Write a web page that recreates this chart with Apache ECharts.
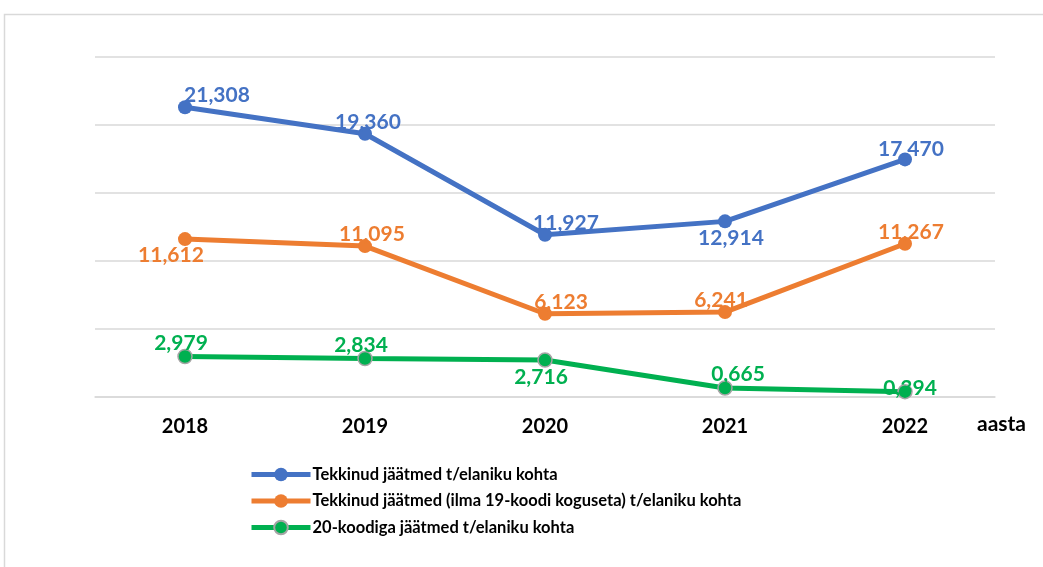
<!DOCTYPE html>
<html>
<head>
<meta charset="UTF-8">
<title>Jäätmed</title>
<script src="https://cdn.jsdelivr.net/npm/echarts@6/dist/echarts.min.js"></script>
<style>
  html, body { margin: 0; padding: 0; background: #fff; }
  #main { width: 1043px; height: 567px; }
</style>
</head>
<body>
<div id="main"></div>
<script type="text/javascript">
  // andmed
  var years = ['2018', '2019', '2020', '2021', '2022'];
  var seriesNames = [
    'Tekkinud jäätmed t/elaniku kohta',
    'Tekkinud jäätmed (ilma 19-koodi koguseta) t/elaniku kohta',
    '20-koodiga jäätmed t/elaniku kohta'
  ];
  var tekkinud = [21.308, 19.360, 11.927, 12.914, 17.470];
  var ilma19 = [11.612, 11.095, 6.123, 6.241, 11.267];
  var kood20 = [2.979, 2.834, 2.716, 0.665, 0.394];

  // sildi asukohad (positsioon + nihe)
  var labelPos = [
    [['top', [32, 6]], ['top', [3, 6]], ['top', [21, 6]], ['bottom', [6, -1]], ['top', [6, 7]]],
    [['bottom', [-14, -1]], ['top', [7, 6]], ['top', [16, 6]], ['top', [-4, 6]], ['top', [6, 6]]],
    [['top', [-4, 5]], ['top', [-4, 5]], ['bottom', [-4, -1]], ['top', [13, 5]], ['top', [5, 15]]]
  ];
  var colors = ['#4472C4', '#ED7D31', '#00B050'];
  var font = 'Lato';

  function fmt(v) { return v.toFixed(3).replace('.', ','); }

  function buildData(values, pos) {
    return values.map(function (v, i) {
      return {
        value: v,
        label: { position: pos[i][0], offset: pos[i][1] }
      };
    });
  }

  var myChart = echarts.init(document.getElementById('main'));

  var series = [tekkinud, ilma19, kood20].map(function (vals, k) {
    return {
      name: seriesNames[k],
      type: 'line',
      data: buildData(vals, labelPos[k]),
      symbol: 'circle',
      symbolSize: 14,
      lineStyle: { width: 5, color: colors[k] },
      itemStyle: {
        color: colors[k],
        borderColor: k === 2 ? '#a5a5a5' : colors[k],
        borderWidth: k === 2 ? 1.5 : 0
      },
      label: {
        show: true,
        distance: 0,
        color: colors[k],
        fontFamily: font,
        fontWeight: 'bold',
        fontSize: 21,
        formatter: function (p) { return fmt(p.value); }
      },
      z: 3 - k
    };
  });

  myChart.setOption({
    animation: false,
    color: colors,
    graphic: [{
      type: 'rect',
      shape: { x: 4.5, y: 14.5, width: 1100, height: 700 },
      style: { fill: 'none', stroke: '#d9d9d9', lineWidth: 1.5 },
      silent: true
    }],
    grid: { left: 95, right: 48, top: 57, bottom: 170 },
    legend: {
      orient: 'vertical',
      left: 244,
      top: 461,
      itemWidth: 59,
      itemHeight: 17,
      itemGap: 9.5,
      lineStyle: { width: 5 },
      textStyle: { fontFamily: font, fontWeight: 'bold', fontSize: 16.5, lineHeight: 17, height: 17, color: '#000', padding: [0, 0, 0, -3] },
      data: seriesNames
    },
    xAxis: {
      type: 'category',
      data: years,
      boundaryGap: true,
      axisLine: { lineStyle: { color: '#d9d9d9', width: 1.5 } },
      axisTick: { show: false },
      axisLabel: { margin: 20, color: '#000', fontFamily: font, fontWeight: 'bold', fontSize: 20 },
      name: 'aasta',
      nameLocation: 'end',
      nameGap: -18,
      nameTextStyle: { align: 'left', verticalAlign: 'top', padding: [17, 0, 0, 0], color: '#000', fontFamily: font, fontWeight: 'bold', fontSize: 21 }
    },
    yAxis: {
      type: 'value',
      min: 0,
      max: 25,
      interval: 5,
      axisLabel: { show: false },
      axisLine: { show: false },
      axisTick: { show: false },
      splitLine: { lineStyle: { color: '#d9d9d9', width: 1.5 } }
    },
    series: series
  });
</script>
</body>
</html>
